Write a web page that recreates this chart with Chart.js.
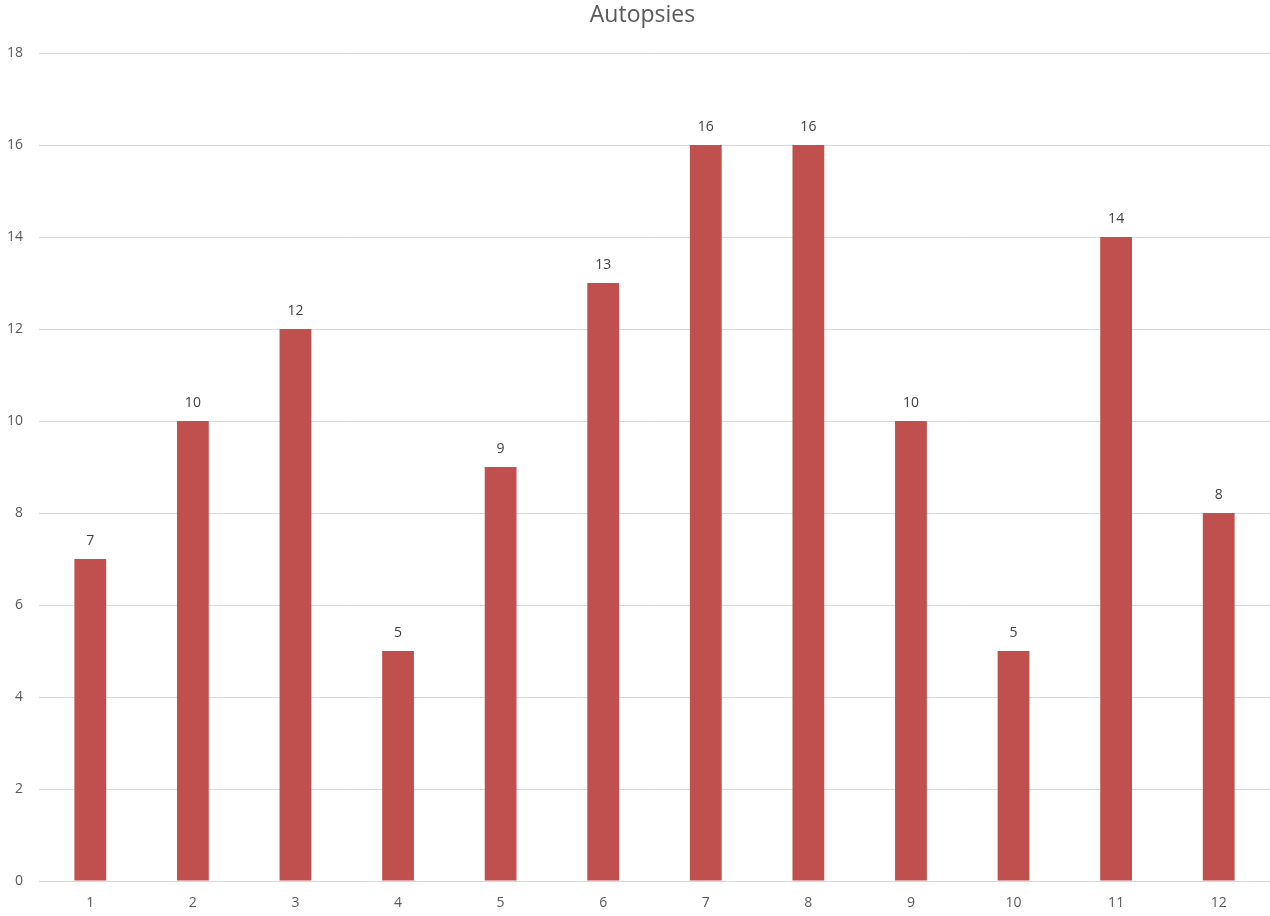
<!DOCTYPE html>
<html>
<head>
<meta charset="utf-8">
<script src="https://cdn.jsdelivr.net/npm/chart.js@4"></script>
<style>
  html, body { margin: 0; padding: 0; background: #fff; }
  #wrap { width: 1270px; height: 916px; }
</style>
</head>
<body>
<div id="wrap"><canvas id="autopsyChart"></canvas></div>
<script>
const months = ['1', '2', '3', '4', '5', '6', '7', '8', '9', '10', '11', '12'];
const autopsies = [7, 10, 12, 5, 9, 13, 16, 16, 10, 5, 14, 8];
const yTicks = [0, 2, 4, 6, 8, 10, 12, 14, 16, 18];

const fontFamily = '"Open Sans", "Liberation Sans", sans-serif';

// draws the value above each bar
const valueLabels = {
    id: 'valueLabels',
    afterLayout(chart) {
        // let the y labels use the left padding too (title stays centred like the original)
        chart.scales.y.left = 0;
    },
    afterDatasetsDraw(chart) {
        const ctx = chart.ctx;
        const meta = chart.getDatasetMeta(0);
        ctx.save();
        ctx.font = '14px ' + fontFamily;
        ctx.fillStyle = '#404040';
        ctx.textAlign = 'center';
        ctx.textBaseline = 'middle';
        meta.data.forEach((bar, i) => {
            ctx.fillText(autopsies[i], bar.x, bar.y - 18);
        });
        ctx.restore();
    }
};

const ctx = document.getElementById('autopsyChart').getContext('2d');

new Chart(ctx, {
    type: 'bar',
    data: {
        labels: months,
        datasets: [{
            label: 'Autopsies',
            data: autopsies,
            backgroundColor: '#C0504D',
            borderWidth: 0,
            barPercentage: 0.31,
            categoryPercentage: 1
        }]
    },
    options: {
        responsive: true,
        maintainAspectRatio: false,
        animation: false,
        layout: {
            padding: { left: 15, right: 0, top: 0, bottom: 0 }
        },
        plugins: {
            legend: { display: false },
            tooltip: { enabled: false },
            title: {
                display: true,
                text: 'Autopsies',
                color: '#595959',
                font: { family: fontFamily, size: 23, weight: 'normal' },
                padding: { top: 2, bottom: 23.4 }
            }
        },
        scales: {
            x: {
                afterFit(scale) { scale.height = 35; },
                grid: { display: false, drawTicks: false },
                border: { color: '#d9d9d9', width: 1 },
                ticks: {
                    color: '#595959',
                    font: { family: fontFamily, size: 14 },
                    padding: 14
                }
            },
            y: {
                min: 0,
                max: 18,
                afterFit(scale) { scale.width = 24; },
                afterBuildTicks(scale) {
                    scale.ticks = yTicks.map(v => ({ value: v }));
                },
                grid: { color: '#d9d9d9', drawTicks: false },
                border: { display: false },
                ticks: {
                    color: '#595959',
                    font: { family: fontFamily, size: 14 },
                    padding: 16
                }
            }
        }
    },
    plugins: [valueLabels]
});
</script>
</body>
</html>
